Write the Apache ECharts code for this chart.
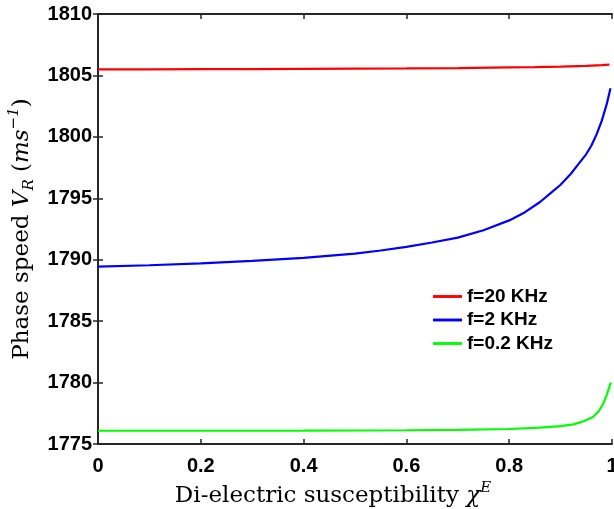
<!DOCTYPE html>
<html>
<head>
    <meta charset="utf-8">
    <title>phase speed</title>
    <script src="https://cdn.jsdelivr.net/npm/echarts@6/dist/echarts.min.js"></script>
</head>
<body style="margin:0">
<div id="main" style="width:614px;height:509px;"></div>

<script>
    // values
    var seriesNames = ['f=20 KHz', 'f=2 KHz', 'f=0.2 KHz'];
    var seriesColors = ['#ff0000', '#0000ff', '#00ff00'];

    var redX = [0, 0.1, 0.2, 0.3, 0.4, 0.5, 0.6, 0.7, 0.8, 0.85, 0.9, 0.95, 0.98, 0.995];
    var redY = [1805.5, 1805.5, 1805.51, 1805.52, 1805.53, 1805.55, 1805.57, 1805.6, 1805.65, 1805.68, 1805.72, 1805.78, 1805.84, 1805.88];

    var blueX = [0, 0.1, 0.2, 0.3, 0.4, 0.5, 0.55, 0.6, 0.65, 0.7, 0.75, 0.8, 0.83, 0.86, 0.88, 0.9, 0.92, 0.935, 0.95, 0.96, 0.97, 0.98, 0.99, 0.997];
    var blueY = [1789.43, 1789.55, 1789.7, 1789.9, 1790.15, 1790.5, 1790.75, 1791.05, 1791.4, 1791.8, 1792.4, 1793.2, 1793.85, 1794.7, 1795.4, 1796.1, 1797.0, 1797.8, 1798.6, 1799.3, 1800.2, 1801.3, 1802.7, 1803.95];

    var greenX = [0, 0.2, 0.4, 0.6, 0.7, 0.8, 0.86, 0.9, 0.925, 0.945, 0.963, 0.975, 0.983, 0.989, 0.993, 0.996, 0.998];
    var greenY = [1776.08, 1776.08, 1776.09, 1776.12, 1776.15, 1776.22, 1776.34, 1776.45, 1776.6, 1776.85, 1777.2, 1777.7, 1778.3, 1778.9, 1779.4, 1779.8, 1780.0];

    function pairs(xs, ys) {
        var out = [];
        for (var i = 0; i < xs.length; i++) out.push([xs[i], ys[i]]);
        return out;
    }

    var axisColor = '#262626';
    var labelFont = {color: '#000', fontFamily: 'Liberation Sans', fontWeight: 'bold', fontSize: 20};
    var serif = 'DejaVu Serif';

    var chart = echarts.init(document.getElementById('main'));
    chart.setOption({
        animation: false,
        backgroundColor: '#fff',
        grid: {left: 98, right: 2, top: 14, bottom: 65, outerBoundsMode: 'none'},
        legend: {
            orient: 'vertical',
            left: 428,
            top: 282,
            itemWidth: 29,
            itemHeight: 14,
            itemGap: 4.5,
            icon: 'path://M0,0 L10,0 L10,1 L0,1 Z',
            textStyle: {color: '#000', fontFamily: 'Liberation Sans', fontWeight: 'bold', fontSize: 19, lineHeight: 18},
            data: seriesNames
        },
        xAxis: [{
            type: 'value',
            min: 0, max: 1, interval: 0.2,
            position: 'bottom',
            name: '{n|Di-electric susceptibility }{i|χ}{sup|E}',
            nameLocation: 'middle',
            nameGap: 31,
            nameTextStyle: {
                padding: [0, 44, 0, 0],
                rich: {
                    n: {fontFamily: serif, fontSize: 23, color: '#000', lineHeight: 30},
                    i: {fontFamily: serif, fontStyle: 'italic', fontSize: 23, color: '#000', lineHeight: 30},
                    sup: {fontFamily: serif, fontStyle: 'italic', fontSize: 15, color: '#000', lineHeight: 15, verticalAlign: 'top'}
                }
            },
            axisLine: {lineStyle: {color: axisColor, width: 2}},
            axisTick: {inside: true, length: 5, lineStyle: {color: axisColor, width: 1.5}},
            axisLabel: Object.assign({margin: 12}, labelFont),
            splitLine: {show: false}
        }, {
            type: 'value',
            min: 0, max: 1, interval: 0.2,
            position: 'top',
            axisLine: {lineStyle: {color: axisColor, width: 2}},
            axisTick: {inside: true, length: 5, lineStyle: {color: axisColor, width: 1.5}},
            axisLabel: {show: false},
            splitLine: {show: false}
        }],
        yAxis: [{
            type: 'value',
            min: 1775, max: 1810, interval: 5,
            position: 'left',
            name: '{n|Phase speed }{i|V}{sub|R}{n| (}{i|ms}{sup|−1}{n|)}',
            nameLocation: 'middle',
            nameGap: 52,
            nameTextStyle: {
                rich: {
                    n: {fontFamily: serif, fontSize: 23, color: '#000', lineHeight: 30},
                    i: {fontFamily: serif, fontStyle: 'italic', fontSize: 23, color: '#000', lineHeight: 30},
                    sub: {fontFamily: serif, fontStyle: 'italic', fontSize: 15, color: '#000', lineHeight: 15, verticalAlign: 'bottom'},
                    sup: {fontFamily: serif, fontStyle: 'italic', fontSize: 15, color: '#000', lineHeight: 15, verticalAlign: 'top'}
                }
            },
            axisLine: {lineStyle: {color: axisColor, width: 2}},
            axisTick: {inside: true, length: 5, lineStyle: {color: axisColor, width: 1.5}},
            axisLabel: Object.assign({margin: 6, formatter: function (v) { return String(v); }}, labelFont),
            splitLine: {show: false}
        }, {
            type: 'value',
            min: 1775, max: 1810, interval: 5,
            position: 'right',
            axisLine: {lineStyle: {color: axisColor, width: 2}},
            axisTick: {inside: true, length: 5, lineStyle: {color: axisColor, width: 1.5}},
            axisLabel: {show: false},
            splitLine: {show: false}
        }],
        series: [
            {name: seriesNames[0], type: 'line', data: pairs(redX, redY), color: seriesColors[0]},
            {name: seriesNames[1], type: 'line', data: pairs(blueX, blueY), color: seriesColors[1]},
            {name: seriesNames[2], type: 'line', data: pairs(greenX, greenY), color: seriesColors[2]}
        ].map(function (s) {
            s.showSymbol = false;
            s.symbol = 'none';
            s.smooth = false;
            s.lineStyle = {width: 2.2, color: s.color};
            s.itemStyle = {color: s.color};
            return s;
        })
    });
</script>
</body>
</html>
